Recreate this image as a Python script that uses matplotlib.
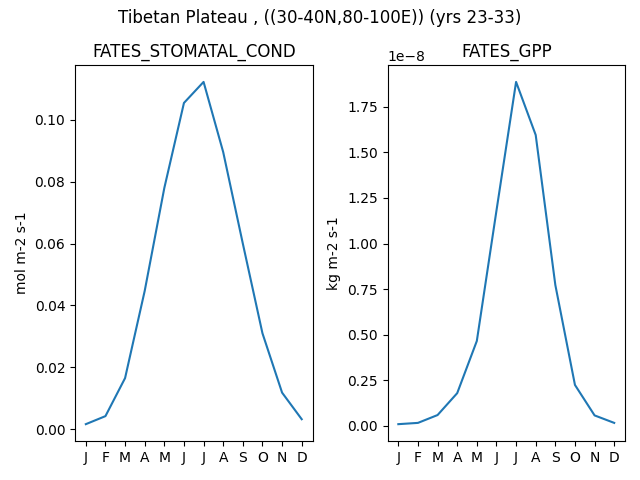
import matplotlib
matplotlib.use("Agg")
import matplotlib.pyplot as plt

months = ["J", "F", "M", "A", "M", "J", "J", "A", "S", "O", "N", "D"]

# monthly means
stomatal_cond = [0.0016, 0.0042, 0.0165, 0.0447, 0.078, 0.1055,
                 0.1123, 0.0896, 0.060, 0.031, 0.0118, 0.0032]
gpp = [0.010e-8, 0.017e-8, 0.060e-8, 0.180e-8, 0.466e-8, 1.180e-8,
       1.886e-8, 1.595e-8, 0.773e-8, 0.225e-8, 0.058e-8, 0.017e-8]

fig, (ax1, ax2) = plt.subplots(1, 2, figsize=(6.4, 4.8))
fig.suptitle("Tibetan Plateau , ((30-40N,80-100E)) (yrs 23-33)", y=0.982)

x = range(len(months))
ax1.plot(x, stomatal_cond)
ax1.set_title("FATES_STOMATAL_COND")
ax1.set_ylabel("mol m-2 s-1")
ax1.set_xticks(list(x))
ax1.set_xticklabels(months)

ax2.plot(x, gpp)
ax2.set_title("FATES_GPP")
ax2.set_ylabel("kg m-2 s-1")
ax2.set_xticks(list(x))
ax2.set_xticklabels(months)

plt.tight_layout()
fig.subplots_adjust(top=0.865)
plt.savefig("out.png", dpi=100)
